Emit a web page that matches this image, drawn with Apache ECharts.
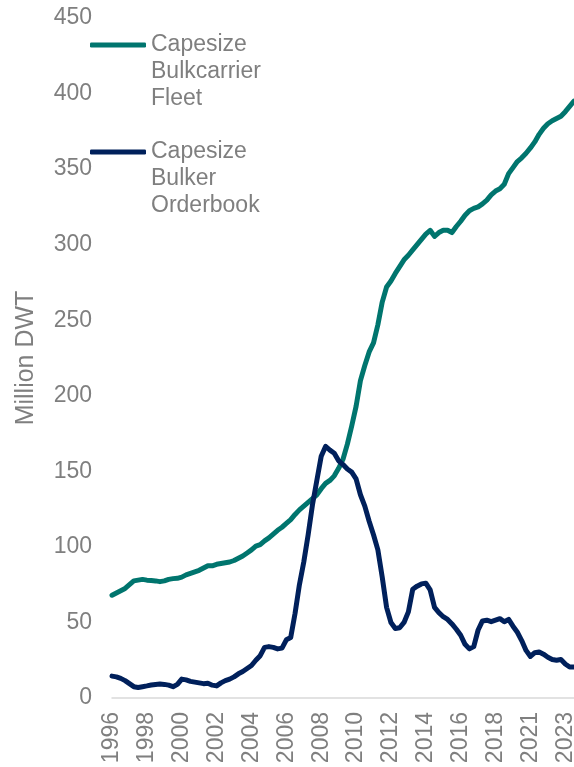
<!DOCTYPE html>
<html>
<head>
<meta charset="utf-8">
<script src="https://cdn.jsdelivr.net/npm/echarts@6/dist/echarts.min.js"></script>
<style>
  html, body { margin: 0; padding: 0; background: #ffffff; }
  #chart { width: 574px; height: 767px; }
</style>
</head>
<body>
<div id="chart"></div>
<script>
// Year labels shown on the x axis (one every 8 quarterly points)
const tickLabels = ['1996', '1998', '2000', '2002', '2004', '2006', '2008',
  '2010', '2012', '2014', '2016', '2018', '2021', '2023'];
const labelStep = 8;

// Capesize bulkcarrier fleet, million DWT
const fleet = [
  68, 69.5, 71, 72.5, 75, 77.5, 78, 78.5, 78, 77.8,
  77.5, 77, 77.5, 78.5, 79, 79.2, 80, 81.5, 82.5, 83.5,
  84.5, 86, 87.5, 87.5, 88.5, 89, 89.5, 90, 91, 92.5,
  94, 96, 98, 100.5, 101.5, 104, 106, 108.5, 111, 113,
  115.5, 118, 121.5, 124.5, 127, 129.5, 132, 134.5, 138.5, 142,
  144, 147, 152, 158, 168, 180, 193, 210, 220, 229,
  235, 247, 262, 272, 276, 281, 285.5, 290, 293, 296.5,
  300, 303.5, 307, 309.5, 305.5, 308, 309.5, 309.5, 308, 312,
  315.5, 319.5, 322.5, 324, 325, 327, 329.5, 333, 335.5, 337,
  340, 347, 351, 355, 357.5, 360.5, 364, 368, 373, 377,
  380, 382, 383.5, 385, 388, 391.5, 395
];

// Capesize bulker orderbook, million DWT
const orderbook = [
  14.5, 14, 13, 11.5, 9.5, 7.5, 7, 7.5, 8, 8.6,
  9, 9.2, 9, 8.5, 7.5, 9, 12.5, 12, 11, 10.5,
  10, 9.5, 9.8, 8.5, 8, 10, 11.5, 12.5, 14, 16,
  17.5, 19.5, 21.5, 25, 28, 33.5, 34, 33.5, 32.5, 33,
  38.5, 40, 56, 75, 90, 108, 128, 144, 160, 166.5,
  164, 162, 157, 154.5, 151.5, 149.5, 145, 134.5, 127, 117,
  108, 98, 80, 60, 50, 46, 46.5, 50, 57, 72,
  74, 75.5, 76, 71.5, 60, 56.5, 53.8, 52, 49, 45.5,
  41.5, 35.5, 32.5, 34, 45, 51, 51.5, 50.5, 51.5, 52.5,
  50.5, 52, 47.5, 43.5, 38, 31.5, 27.5, 30, 30.5, 29,
  27, 25.5, 25, 25.5, 22.5, 20.5, 20.5
];

const fleetName = 'Capesize\nBulkcarrier\nFleet';
const orderbookName = 'Capesize\nBulker\nOrderbook';

// Category axis: a year label on every labelStep-th point, blank otherwise
const categories = fleet.map((_, i) =>
  i % labelStep === 0 && tickLabels[i / labelStep] ? tickLabels[i / labelStep] : '');

const gray = '#7f7f7f';
const teal = '#00756E';
const navy = '#00205B';
const font = 'Liberation Sans, Arial, sans-serif';

// Legend text is vertically centred on the icon; two blank lines on top
// put the first line of the (three-line) name level with the line icon.
const legendBase = {
  left: 90, padding: 0,
  icon: 'roundRect', itemWidth: 56, itemHeight: 5,
  selectedMode: false,
  formatter: name => '\n\n' + name,
  textStyle: { color: gray, fontSize: 23, fontFamily: font, lineHeight: 27 }
};

const chart = echarts.init(document.getElementById('chart'), null, { renderer: 'canvas' });
chart.setOption({
  animation: false,
  backgroundColor: '#ffffff',
  grid: { left: 112, right: 0, top: 18, bottom: 69, containLabel: false, outerBoundsMode: 'none' },
  legend: [
    Object.assign({ data: [fleetName], top: -22.5 }, legendBase),
    Object.assign({ data: [orderbookName], top: 84.5 }, legendBase)
  ],
  xAxis: {
    type: 'category',
    data: categories,
    boundaryGap: false,
    axisLine: { show: true, lineStyle: { color: '#d9d9d9', width: 1.5 } },
    axisTick: { show: false },
    axisLabel: {
      interval: 0, rotate: 90, margin: 14,
      color: gray, fontSize: 23, fontFamily: font
    },
    splitLine: { show: false }
  },
  yAxis: {
    type: 'value',
    min: 0, max: 450, interval: 50,
    name: 'Million DWT',
    nameLocation: 'middle',
    nameGap: 73,
    nameTextStyle: { color: gray, fontSize: 25, fontFamily: font },
    axisLine: { show: false },
    axisTick: { show: false },
    splitLine: { show: false },
    axisLabel: { color: gray, fontSize: 23, fontFamily: font, margin: 20 }
  },
  series: [
    {
      name: fleetName, type: 'line', data: fleet,
      showSymbol: false, symbol: 'none',
      lineStyle: { color: teal, width: 5, join: 'round', cap: 'round' },
      itemStyle: { color: teal }
    },
    {
      name: orderbookName, type: 'line', data: orderbook,
      showSymbol: false, symbol: 'none',
      lineStyle: { color: navy, width: 5, join: 'round', cap: 'round' },
      itemStyle: { color: navy }
    }
  ]
});
</script>
</body>
</html>
